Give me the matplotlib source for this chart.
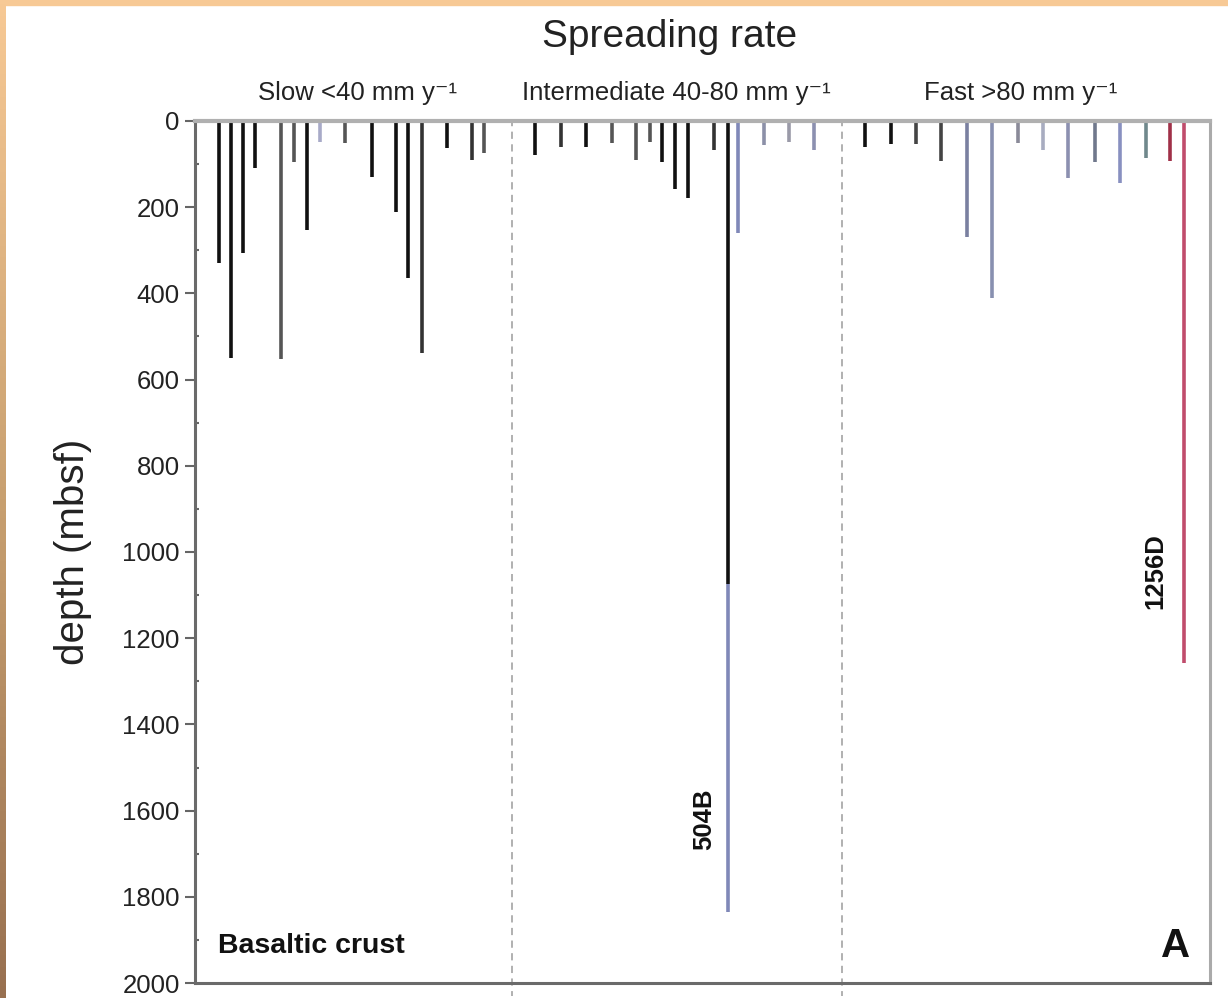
import matplotlib.pyplot as plt
import numpy as np
from matplotlib.ticker import MultipleLocator

plt.rcParams['font.family'] = ['Liberation Sans', 'DejaVu Sans']

# drill sites: position along the spreading-rate axis, depth into basement (m), colour
slow_pos = [1.9, 2.9, 3.8, 4.8, 6.9, 7.9, 8.9, 10.0, 12.0, 14.1, 16.0, 17.0, 18.1, 20.1, 22.1, 23.1]
slow_depth = [330, 550, 306, 109, 552, 95, 253, 49, 51, 130, 211, 364, 538, 63, 90, 75]
slow_col = ['#111111', '#111111', '#111111', '#111111', '#555555', '#555555', '#111111', '#a8aac8',
            '#555555', '#111111', '#111111', '#111111', '#333333', '#111111', '#333333', '#555555']

inter_pos = [27.1, 29.2, 31.2, 33.3, 35.2, 36.3, 37.3, 38.3, 39.3, 41.4, 42.5, 43.3, 45.4, 47.4, 49.4]
inter_depth = [79, 60, 60, 51, 90, 49, 95, 158, 179, 67, 1075, 260, 56, 49, 67]
inter_col = ['#111111', '#333333', '#111111', '#555555', '#555555', '#555555', '#111111', '#111111',
             '#111111', '#333333', '#111111', '#8088b8', '#8c90a8', '#9a9aa8', '#8c90b0']

fast_pos = [53.5, 55.5, 57.5, 59.5, 61.6, 63.6, 65.7, 67.7, 69.7, 71.8, 73.8, 75.9, 77.8, 78.9]
fast_depth = [60, 53, 53, 93, 269, 411, 51, 67, 133, 95, 144, 86, 93, 1257]
fast_col = ['#111111', '#111111', '#444444', '#444444', '#7a80a0', '#8890b0', '#8a8a98', '#a8acc0',
            '#8c90b0', '#70788c', '#8890c0', '#70888c', '#a03048', '#c04c6c']

# deeper basement section of hole 504B
deep_pos = [42.5]
deep_top = [1075]
deep_bottom = [1836]
deep_col = ['#8088b8']

boundaries = [25.3, 51.6]
rate_labels = ['Slow <40 mm y⁻¹', 'Intermediate 40-80 mm y⁻¹', 'Fast >80 mm y⁻¹']
rate_label_x = [13.0, 38.4, 65.9]
hole_labels = ['504B', '1256D']
hole_label_x = [40.6, 76.6]
hole_label_y = [1620, 1045]

fig = plt.figure(figsize=(12.28, 9.98), dpi=100)

# peach frame along the top and a shaded strip down the left edge
fig.patches.append(plt.Rectangle((0, 0.995), 1, 0.005, transform=fig.transFigure,
                                 color='#f7c995', zorder=-5))
grad = np.linspace(0, 1, 256).reshape(-1, 1)
edge = fig.add_axes([0, 0, 0.0045, 1])
edge.imshow(grad, aspect='auto', cmap=plt.matplotlib.colors.LinearSegmentedColormap.from_list(
    'edge', ['#f7c995', '#c8a070', '#987050']), extent=(0, 1, 0, 1))
edge.axis('off')

ax = fig.add_axes([0.1588, 0.015, 0.8266, 0.8638])

lw = 2.6
ax.vlines(slow_pos, 0, slow_depth, colors=slow_col, lw=lw)
ax.vlines(inter_pos, 0, inter_depth, colors=inter_col, lw=lw)
ax.vlines(fast_pos, 0, fast_depth, colors=fast_col, lw=lw)
ax.vlines(deep_pos, deep_top, deep_bottom, colors=deep_col, lw=lw)

for b in boundaries:
    ax.plot([b, b], [-5, 2030], ls=(0, (4, 3)), color='#aaaaaa', lw=1.3, clip_on=False)

ax.set_xlim(0, 81)
ax.set_ylim(2000, 0)
ax.set_xticks([])
ax.yaxis.set_major_locator(MultipleLocator(200))
ax.yaxis.set_minor_locator(MultipleLocator(100))
ax.tick_params(axis='y', which='major', labelsize=18.5, length=7, width=1.5,
               color='#666666', labelcolor='#222222', pad=4)
ax.tick_params(axis='y', which='minor', direction='in', length=3, width=1.5, color='#666666')
ax.set_ylabel('depth (mbsf)', fontsize=29, color='#222222', labelpad=22)

for side in ['left', 'bottom', 'right']:
    ax.spines[side].set_color('#6a6a6a')
    ax.spines[side].set_linewidth(2.2)
ax.spines['right'].set_color('#aaaaaa')
ax.spines['top'].set_color('#b0b0b0')
ax.spines['top'].set_linewidth(3)

fig.text(0.545, 0.963, 'Spreading rate', ha='center', va='center', fontsize=28, color='#222222')
for x, t in zip(rate_label_x, rate_labels):
    ax.text(x, -65, t, ha='center', va='center', fontsize=18.5, color='#222222')

for x, y, t in zip(hole_label_x, hole_label_y, hole_labels):
    ax.text(x, y, t, rotation=90, ha='center', va='center', fontsize=18.5, fontweight='bold',
            color='#111111')

ax.text(1.8, 1915, 'Basaltic crust', ha='left', va='center', fontsize=20.5, fontweight='bold',
        color='#111111')
ax.text(79.4, 1915, 'A', ha='right', va='center', fontsize=29, fontweight='bold', color='#111111')

fig.savefig('out.png', dpi=100)
